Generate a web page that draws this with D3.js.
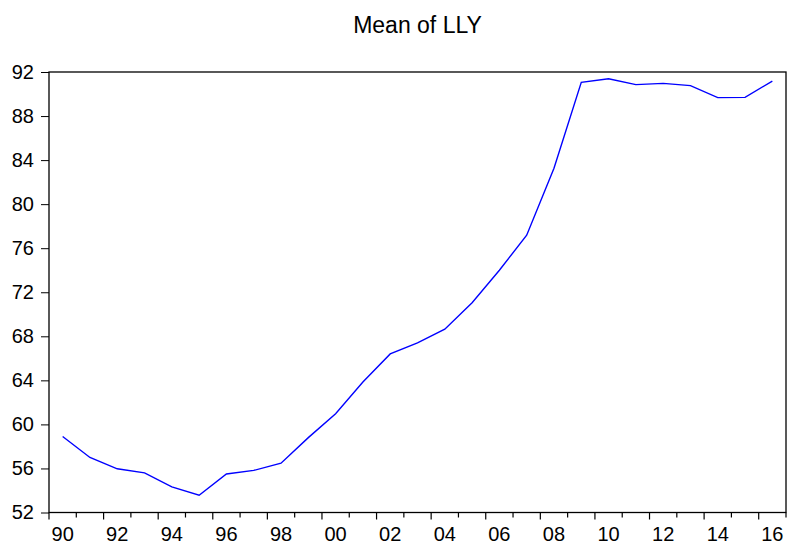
<!DOCTYPE html>
<html>
<head>
<meta charset="utf-8">
<script src="https://cdn.jsdelivr.net/npm/d3@7"></script>
<style>
  body { margin: 0; background: #fff; }
  svg { display: block; }
  text { font-family: "Liberation Sans", Arial, sans-serif; fill: #000; }
</style>
</head>
<body>
<div id="chart"></div>
<script>
// data
const years = d3.range(1990, 2017);
const lly = [58.9, 57.0, 55.97, 55.6, 54.33, 53.57, 55.5, 55.82, 56.48, 58.8,
             60.97, 63.85, 66.4, 67.4, 68.65, 71.05, 74.0, 77.18, 83.27, 91.06,
             91.39, 90.85, 90.97, 90.76, 89.67, 89.7, 91.18];
const yTicks = [52, 56, 60, 64, 68, 72, 76, 80, 84, 88, 92];
const title = "Mean of LLY";

const width = 787, height = 543;
const plotLeft = 49, plotRight = 786, plotTop = 72, plotBottom = 512.5;

const svg = d3.select("#chart").append("svg")
  .attr("width", width)
  .attr("height", height);

// x: one band per year, point in the middle
const x = d3.scaleBand()
  .domain(years)
  .range([plotLeft, plotRight])
  .padding(0);

const y = d3.scaleLinear()
  .domain([52, 92])
  .range([plotBottom, plotTop]);

// title
svg.append("text")
  .attr("x", (plotLeft + plotRight) / 2)
  .attr("y", 33)
  .attr("text-anchor", "middle")
  .style("font-size", "23px")
  .text(title);

// y axis
const yAxis = svg.append("g")
  .attr("transform", "translate(" + plotLeft + ",0)")
  .call(d3.axisLeft(y).tickValues(yTicks).tickSize(8).tickPadding(7).tickFormat(d3.format("d")));
yAxis.select(".domain").remove();
yAxis.selectAll("line").attr("stroke", "#000");
yAxis.selectAll("text").style("font-size", "20px").style("font-family", "Liberation Sans, Arial, sans-serif");

// x ticks at the year boundaries
const xg = svg.append("g");
xg.selectAll("line")
  .data(years.concat([2017]))
  .enter().append("line")
  .attr("x1", d => d === 2017 ? plotRight : x(d))
  .attr("x2", d => d === 2017 ? plotRight : x(d))
  .attr("y1", plotBottom)
  .attr("y2", d => plotBottom + (d % 2 === 0 ? 7 : 5))
  .attr("stroke", "#000")
  .attr("stroke-width", 1.2);

xg.selectAll("text")
  .data(years.filter(d => d % 2 === 0))
  .enter().append("text")
  .attr("x", d => x(d) + x.bandwidth() / 2)
  .attr("y", 541)
  .attr("text-anchor", "middle")
  .style("font-size", "20px")
  .text(d => String(d).slice(2));

// frame
svg.append("rect")
  .attr("x", plotLeft)
  .attr("y", plotTop)
  .attr("width", plotRight - plotLeft)
  .attr("height", plotBottom - plotTop)
  .attr("fill", "none")
  .attr("stroke", "#000")
  .attr("stroke-width", 1.3);

// line
const line = d3.line()
  .x((d, i) => x(years[i]) + x.bandwidth() / 2)
  .y(d => y(d));

svg.append("path")
  .datum(lly)
  .attr("d", line)
  .attr("fill", "none")
  .attr("stroke", "#0000ff")
  .attr("stroke-width", 1.4);
</script>
</body>
</html>
